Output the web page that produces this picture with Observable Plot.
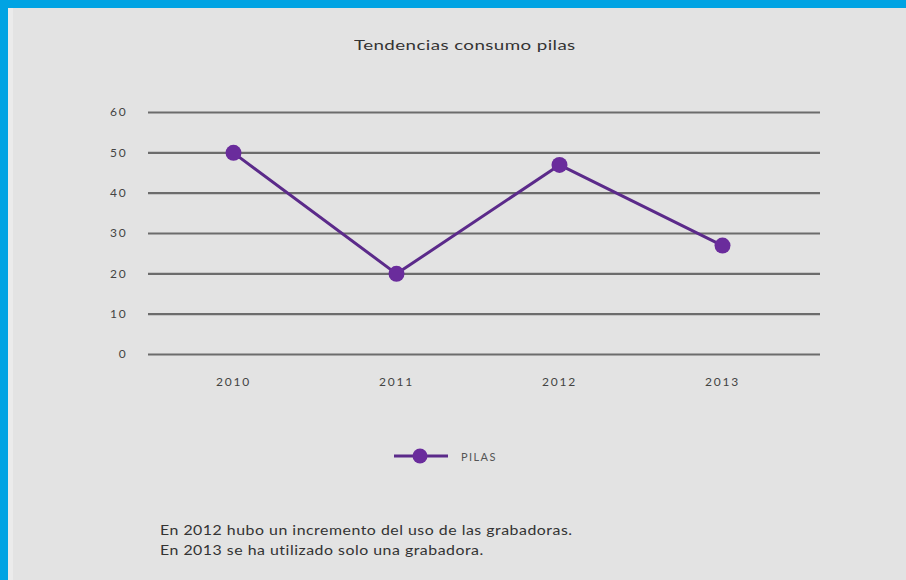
<!DOCTYPE html>
<html><head><meta charset="utf-8">
<script src="https://cdn.jsdelivr.net/npm/d3@7"></script>
<script src="https://cdn.jsdelivr.net/npm/@observablehq/plot@0.6"></script>
<style>
html,body{margin:0;padding:0;width:906px;height:580px;overflow:hidden;background:#00a3e3;font-family:Lato,"Open Sans",sans-serif;}
#panel{position:absolute;left:8px;top:8px;width:898px;height:572px;background:#e3e3e3;}
#strip{position:absolute;left:8px;top:8px;width:5px;height:572px;background:#ebebeb;}
#title{position:absolute;left:354px;top:36px;white-space:nowrap;font-size:14px;letter-spacing:0.3px;color:#333;transform:scaleX(1.34);transform-origin:0 50%;}
#chart{position:absolute;left:0;top:0;}
#chart svg text{letter-spacing:1.8px;}
#legend{position:absolute;left:393px;top:447px;height:18px;display:flex;align-items:center;font-size:11px;letter-spacing:1.4px;color:#555;}
#legend svg{margin-right:12px;}
#caption{position:absolute;left:160px;top:521px;white-space:nowrap;font-size:12.5px;line-height:19.5px;letter-spacing:0.4px;color:#333;transform:scaleX(1.27);transform-origin:0 50%;}
</style>
</head><body>
<div id="panel"></div><div id="strip"></div>
<div id="title">Tendencias consumo pilas</div>
<div id="chart"></div>
<div id="legend"></div>
<div id="caption"></div>
<script>
const years = ["2010", "2011", "2012", "2013"];
const pilas = [50, 20, 47, 27];
const yTicks = [0, 10, 20, 30, 40, 50, 60];
const seriesName = "PILAS";
const captionLines = [
  "En 2012 hubo un incremento del uso de las grabadoras.",
  "En 2013 se ha utilizado solo una grabadora."
];

const data = years.map((y, i) => ({year: y, value: pilas[i]}));
const lineColor = "#5b2a8a";
const dotColor = "#6a2c9c";

const chart = Plot.plot({
  width: 906,
  height: 400,
  marginLeft: 148,
  marginRight: 86,
  marginTop: 112,
  marginBottom: 46,
  style: {background: "transparent", fontFamily: "Lato, 'Open Sans', sans-serif", fontSize: "12px", color: "#444"},
  x: {type: "point", domain: years, range: [232, 722], padding: 0, label: null},
  y: {domain: [0, 60], label: null},
  marks: [
    Plot.ruleY(yTicks, {stroke: "#6c6c6c", strokeWidth: 2.2}),
    Plot.axisY({ticks: yTicks, tickSize: 0, tickPadding: 21, label: null}),
    Plot.axisX({tickSize: 0, tickPadding: 23, label: null}),
    Plot.line(data, {x: "year", y: "value", stroke: lineColor, strokeWidth: 3}),
    Plot.dot(data, {x: "year", y: "value", r: 8, fill: dotColor, stroke: "none"})
  ]
});
document.getElementById("chart").appendChild(chart);

const legend = document.getElementById("legend");
legend.innerHTML = `<svg width="56" height="18"><line x1="1" x2="55" y1="9" y2="9" stroke="${lineColor}" stroke-width="3"/><circle cx="27" cy="9" r="7.5" fill="${dotColor}"/></svg><span>${seriesName}</span>`;

document.getElementById("caption").innerHTML = captionLines.map(l => `<div>${l}</div>`).join("");
</script>
</body></html>
